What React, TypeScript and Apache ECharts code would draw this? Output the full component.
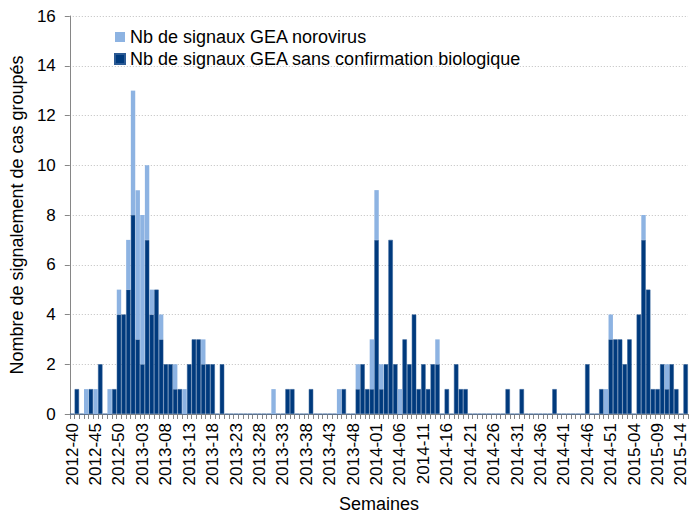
import React, { useEffect, useRef } from 'react';
import * as echarts from 'echarts';

// Weeks shown: 2012-40 ... 2015-15
const yearSegments: [number, number, number][] = [
  [2012, 40, 52],
  [2013, 1, 52],
  [2014, 1, 52],
  [2015, 1, 15],
];

// Nb de signaux GEA sans confirmation biologique (dark)
const dark2012 = [0, 1, 0, 0, 1, 0, 2, 0, 0, 1, 4, 4, 5];
const dark2013 = [
  8, 3, 2, 7, 4, 5, 3, 2, 2, 1, 1, 0, 2, 3, 3, 2, 2, 2, 0, 2,
  0, 0, 0, 0, 0, 0, 0, 0, 0, 0, 0, 0, 0,
  1, 1, 0, 0, 0, 1, 0, 0, 0, 0, 0, 0, 1, 0, 0, 1, 2, 1, 1,
];
const dark2014 = [
  7, 1, 2, 7, 2, 0, 3, 2, 4, 1, 2, 1, 2, 2, 0, 1, 0, 2, 1, 1,
  0, 0, 0, 0, 0, 0, 0, 0, 1, 0, 0, 1, 0, 0, 0, 0, 0, 0, 1,
  0, 0, 0, 0, 0, 0, 2, 0, 0, 1, 0, 3, 3,
];
const dark2015 = [3, 2, 3, 0, 4, 7, 5, 1, 1, 2, 1, 2, 1, 0, 2];

// Nb de signaux GEA norovirus (light, stacked on top)
const light2012 = [0, 0, 0, 1, 0, 1, 0, 0, 1, 0, 1, 0, 2];
const light2013 = [
  5, 6, 6, 3, 1, 0, 1, 0, 0, 1, 0, 1, 0, 0, 0, 1, 0, 0, 0, 0,
  0, 0, 0, 0, 0, 0, 0, 0, 0, 0, 1, 0, 0,
  0, 0, 0, 0, 0, 0, 0, 0, 0, 0, 0, 1, 0, 0, 0, 1, 0, 0, 2,
];
const light2014 = [
  2, 1, 0, 0, 0, 1, 0, 0, 0, 0, 0, 0, 0, 1, 0, 0, 0, 0, 0, 0,
  0, 0, 0, 0, 0, 0, 0, 0, 0, 0, 0, 0, 0, 0, 0, 0, 0, 0, 0,
  0, 0, 0, 0, 0, 0, 0, 0, 0, 0, 1, 1, 0,
];
const light2015 = [0, 0, 0, 0, 0, 1, 0, 0, 0, 0, 1, 0, 0, 0, 0];

const yTicks = { min: 0, max: 16, interval: 2 };

const NAME_LIGHT = 'Nb de signaux GEA norovirus';
const NAME_DARK = 'Nb de signaux GEA sans confirmation biologique';

const categories: string[] = [];
yearSegments.forEach(([y, a, b]) => {
  for (let w = a; w <= b; w++) categories.push(`${y}-${String(w).padStart(2, '0')}`);
});
const darkData = [...dark2012, ...dark2013, ...dark2014, ...dark2015];
const lightData = [...light2012, ...light2013, ...light2014, ...light2015];

const FONT = 'Liberation Sans, Arial, sans-serif';
const TXT = '#000000';
const AXIS = '#868686';

export default function App() {
  const ref = useRef<HTMLDivElement>(null);
  useEffect(() => {
    document.body.style.margin = '0';
    if (!ref.current) return;
    const chart = echarts.init(ref.current, undefined, { renderer: 'svg' });
    chart.setOption({
      animation: false,
      backgroundColor: '#ffffff',
      textStyle: { fontFamily: FONT },
      grid: { left: 68, right: 10, top: 16, bottom: 103, containLabel: false },
      legend: {
        orient: 'vertical',
        left: 114,
        top: 28,
        padding: 0,
        itemWidth: 10,
        itemHeight: 10,
        itemGap: 4,
        icon: 'rect',
        data: [NAME_LIGHT, NAME_DARK],
        textStyle: { fontSize: 18, color: TXT, fontFamily: FONT },
      },
      xAxis: {
        type: 'category',
        data: categories,
        boundaryGap: true,
        axisLine: { lineStyle: { color: AXIS, width: 1 } },
        axisTick: { show: true, interval: 0, length: 5, lineStyle: { color: AXIS } },
        axisLabel: { interval: 4, rotate: 90, fontSize: 17, color: TXT, fontFamily: FONT, margin: 9 },
        name: 'Semaines',
        nameLocation: 'middle',
        nameGap: 81,
        nameTextStyle: { fontSize: 18, color: TXT, fontFamily: FONT },
      },
      yAxis: {
        type: 'value',
        min: yTicks.min,
        max: yTicks.max,
        interval: yTicks.interval,
        axisLine: { show: true, lineStyle: { color: AXIS, width: 1 } },
        axisTick: { show: true, length: 5, lineStyle: { color: AXIS } },
        axisLabel: { fontSize: 17, color: TXT, fontFamily: FONT, margin: 14 },
        splitLine: { show: true, lineStyle: { color: '#BFBFBF', type: [1, 2], width: 1 } },
        name: 'Nombre de signalement de cas groupés',
        nameLocation: 'middle',
        nameGap: 40,
        nameRotate: 90,
        nameTextStyle: { fontSize: 18, color: TXT, fontFamily: FONT },
      },
      series: [
        {
          name: NAME_DARK,
          type: 'bar',
          stack: 'total',
          data: darkData,
          barCategoryGap: '6%',
          itemStyle: { color: '#003A7D', borderColor: '#2B5A94', borderWidth: 0.5 },
        },
        {
          name: NAME_LIGHT,
          type: 'bar',
          stack: 'total',
          data: lightData,
          barCategoryGap: '6%',
          itemStyle: { color: '#8DB3E2' },
        },
      ],
    });
    return () => chart.dispose();
  }, []);
  return <div ref={ref} style={{ width: 698, height: 518 }} />;
}
